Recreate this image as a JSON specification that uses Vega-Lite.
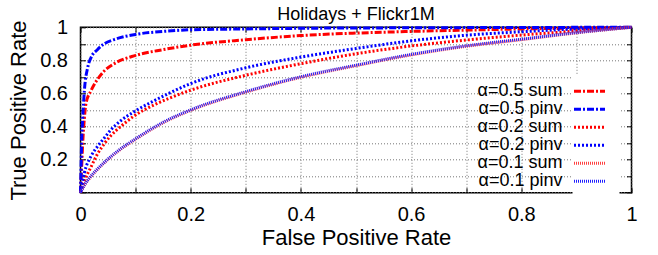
{
  "$schema": "https://vega.github.io/schema/vega-lite/v6.json",
  "width": 551,
  "height": 165.4,
  "autosize": {"type": "none"},
  "padding": {"left": 80.5, "top": 27.3, "right": 26.5, "bottom": 62.3},
  "title": {"text": "Holidays + Flickr1M", "fontSize": 18, "font": "Liberation Sans", "fontWeight": "normal", "baseline": "alphabetic", "offset": 7, "dy": 28, "anchor": "middle", "color": "black"},
  "config": {
    "view": {"stroke": "black", "strokeWidth": 1.5},
    "font": "Liberation Sans",
    "axis": {
      "domain": false,
      "grid": true,
      "gridColor": "#777",
      "gridDash": [1, 2],
      "gridWidth": 1,
      "tickSize": -5,
      "tickColor": "black",
      "tickWidth": 1,
      "labelFontSize": 20,
      "labelColor": "black",
      "labelFont": "Liberation Sans",
      "titleFont": "Liberation Sans",
      "titleFontSize": 22,
      "titleFontWeight": "normal",
      "titleColor": "black",
      "labelFlush": false,
      "labelOverlap": false
    },
    "legend": {
      "orient": "none",
      "legendX": 492,
      "legendY": 47,
      "fillColor": "white",
      "padding": 8,
      "labelFontSize": 18,
      "labelFont": "Liberation Sans",
      "labelColor": "black",
      "labelAlign": "right",
      "labelOffset": -36,
      "symbolType": "M-3.1,0H3.1",
      "symbolSize": 100,
      "symbolStrokeWidth": 3,
      "rowPadding": -1.2
    }
  },
  "data": {"values": [
    {"series": "α=0.5 sum", "fpr": 0, "tpr": 0},
    {"series": "α=0.5 sum", "fpr": 0.002, "tpr": 0.15},
    {"series": "α=0.5 sum", "fpr": 0.004, "tpr": 0.3},
    {"series": "α=0.5 sum", "fpr": 0.007, "tpr": 0.45},
    {"series": "α=0.5 sum", "fpr": 0.01, "tpr": 0.54},
    {"series": "α=0.5 sum", "fpr": 0.019, "tpr": 0.616},
    {"series": "α=0.5 sum", "fpr": 0.031, "tpr": 0.686},
    {"series": "α=0.5 sum", "fpr": 0.043, "tpr": 0.736},
    {"series": "α=0.5 sum", "fpr": 0.061, "tpr": 0.78},
    {"series": "α=0.5 sum", "fpr": 0.1, "tpr": 0.83},
    {"series": "α=0.5 sum", "fpr": 0.15, "tpr": 0.865},
    {"series": "α=0.5 sum", "fpr": 0.2, "tpr": 0.892},
    {"series": "α=0.5 sum", "fpr": 0.3, "tpr": 0.925},
    {"series": "α=0.5 sum", "fpr": 0.4, "tpr": 0.95},
    {"series": "α=0.5 sum", "fpr": 0.5, "tpr": 0.965},
    {"series": "α=0.5 sum", "fpr": 0.6, "tpr": 0.975},
    {"series": "α=0.5 sum", "fpr": 0.7, "tpr": 0.983},
    {"series": "α=0.5 sum", "fpr": 0.8, "tpr": 0.99},
    {"series": "α=0.5 sum", "fpr": 0.9, "tpr": 0.995},
    {"series": "α=0.5 sum", "fpr": 1, "tpr": 1},
    {"series": "α=0.5 pinv", "fpr": 0, "tpr": 0},
    {"series": "α=0.5 pinv", "fpr": 0.001, "tpr": 0.15},
    {"series": "α=0.5 pinv", "fpr": 0.002, "tpr": 0.3},
    {"series": "α=0.5 pinv", "fpr": 0.004, "tpr": 0.45},
    {"series": "α=0.5 pinv", "fpr": 0.007, "tpr": 0.616},
    {"series": "α=0.5 pinv", "fpr": 0.013, "tpr": 0.756},
    {"series": "α=0.5 pinv", "fpr": 0.019, "tpr": 0.816},
    {"series": "α=0.5 pinv", "fpr": 0.031, "tpr": 0.866},
    {"series": "α=0.5 pinv", "fpr": 0.043, "tpr": 0.9},
    {"series": "α=0.5 pinv", "fpr": 0.061, "tpr": 0.926},
    {"series": "α=0.5 pinv", "fpr": 0.1, "tpr": 0.957},
    {"series": "α=0.5 pinv", "fpr": 0.15, "tpr": 0.975},
    {"series": "α=0.5 pinv", "fpr": 0.2, "tpr": 0.985},
    {"series": "α=0.5 pinv", "fpr": 0.3, "tpr": 0.99},
    {"series": "α=0.5 pinv", "fpr": 0.4, "tpr": 0.994},
    {"series": "α=0.5 pinv", "fpr": 0.6, "tpr": 0.997},
    {"series": "α=0.5 pinv", "fpr": 0.8, "tpr": 0.999},
    {"series": "α=0.5 pinv", "fpr": 1, "tpr": 1},
    {"series": "α=0.2 sum", "fpr": 0, "tpr": 0},
    {"series": "α=0.2 sum", "fpr": 0.007, "tpr": 0.07},
    {"series": "α=0.2 sum", "fpr": 0.019, "tpr": 0.155},
    {"series": "α=0.2 sum", "fpr": 0.031, "tpr": 0.235},
    {"series": "α=0.2 sum", "fpr": 0.043, "tpr": 0.295},
    {"series": "α=0.2 sum", "fpr": 0.055, "tpr": 0.345},
    {"series": "α=0.2 sum", "fpr": 0.073, "tpr": 0.40},
    {"series": "α=0.2 sum", "fpr": 0.1, "tpr": 0.47},
    {"series": "α=0.2 sum", "fpr": 0.133, "tpr": 0.53},
    {"series": "α=0.2 sum", "fpr": 0.16, "tpr": 0.57},
    {"series": "α=0.2 sum", "fpr": 0.2, "tpr": 0.62},
    {"series": "α=0.2 sum", "fpr": 0.3, "tpr": 0.71},
    {"series": "α=0.2 sum", "fpr": 0.4, "tpr": 0.78},
    {"series": "α=0.2 sum", "fpr": 0.5, "tpr": 0.84},
    {"series": "α=0.2 sum", "fpr": 0.6, "tpr": 0.887},
    {"series": "α=0.2 sum", "fpr": 0.7, "tpr": 0.923},
    {"series": "α=0.2 sum", "fpr": 0.8, "tpr": 0.953},
    {"series": "α=0.2 sum", "fpr": 0.9, "tpr": 0.977},
    {"series": "α=0.2 sum", "fpr": 1, "tpr": 1},
    {"series": "α=0.2 pinv", "fpr": 0, "tpr": 0},
    {"series": "α=0.2 pinv", "fpr": 0.007, "tpr": 0.12},
    {"series": "α=0.2 pinv", "fpr": 0.019, "tpr": 0.22},
    {"series": "α=0.2 pinv", "fpr": 0.031, "tpr": 0.28},
    {"series": "α=0.2 pinv", "fpr": 0.043, "tpr": 0.33},
    {"series": "α=0.2 pinv", "fpr": 0.055, "tpr": 0.38},
    {"series": "α=0.2 pinv", "fpr": 0.073, "tpr": 0.435},
    {"series": "α=0.2 pinv", "fpr": 0.1, "tpr": 0.495},
    {"series": "α=0.2 pinv", "fpr": 0.133, "tpr": 0.555},
    {"series": "α=0.2 pinv", "fpr": 0.16, "tpr": 0.6},
    {"series": "α=0.2 pinv", "fpr": 0.2, "tpr": 0.66},
    {"series": "α=0.2 pinv", "fpr": 0.3, "tpr": 0.755},
    {"series": "α=0.2 pinv", "fpr": 0.4, "tpr": 0.82},
    {"series": "α=0.2 pinv", "fpr": 0.5, "tpr": 0.872},
    {"series": "α=0.2 pinv", "fpr": 0.6, "tpr": 0.918},
    {"series": "α=0.2 pinv", "fpr": 0.7, "tpr": 0.952},
    {"series": "α=0.2 pinv", "fpr": 0.8, "tpr": 0.973},
    {"series": "α=0.2 pinv", "fpr": 0.9, "tpr": 0.99},
    {"series": "α=0.2 pinv", "fpr": 1, "tpr": 1},
    {"series": "α=0.1 sum", "fpr": 0, "tpr": 0},
    {"series": "α=0.1 sum", "fpr": 0.007, "tpr": 0.043},
    {"series": "α=0.1 sum", "fpr": 0.019, "tpr": 0.098},
    {"series": "α=0.1 sum", "fpr": 0.03, "tpr": 0.138},
    {"series": "α=0.1 sum", "fpr": 0.049, "tpr": 0.198},
    {"series": "α=0.1 sum", "fpr": 0.067, "tpr": 0.248},
    {"series": "α=0.1 sum", "fpr": 0.1, "tpr": 0.323},
    {"series": "α=0.1 sum", "fpr": 0.15, "tpr": 0.423},
    {"series": "α=0.1 sum", "fpr": 0.2, "tpr": 0.498},
    {"series": "α=0.1 sum", "fpr": 0.3, "tpr": 0.608},
    {"series": "α=0.1 sum", "fpr": 0.4, "tpr": 0.698},
    {"series": "α=0.1 sum", "fpr": 0.5, "tpr": 0.768},
    {"series": "α=0.1 sum", "fpr": 0.6, "tpr": 0.833},
    {"series": "α=0.1 sum", "fpr": 0.7, "tpr": 0.885},
    {"series": "α=0.1 sum", "fpr": 0.8, "tpr": 0.925},
    {"series": "α=0.1 sum", "fpr": 0.9, "tpr": 0.966},
    {"series": "α=0.1 sum", "fpr": 1, "tpr": 1},
    {"series": "α=0.1 pinv", "fpr": 0, "tpr": 0},
    {"series": "α=0.1 pinv", "fpr": 0.007, "tpr": 0.046},
    {"series": "α=0.1 pinv", "fpr": 0.019, "tpr": 0.101},
    {"series": "α=0.1 pinv", "fpr": 0.03, "tpr": 0.141},
    {"series": "α=0.1 pinv", "fpr": 0.049, "tpr": 0.201},
    {"series": "α=0.1 pinv", "fpr": 0.067, "tpr": 0.251},
    {"series": "α=0.1 pinv", "fpr": 0.1, "tpr": 0.326},
    {"series": "α=0.1 pinv", "fpr": 0.15, "tpr": 0.426},
    {"series": "α=0.1 pinv", "fpr": 0.2, "tpr": 0.501},
    {"series": "α=0.1 pinv", "fpr": 0.3, "tpr": 0.611},
    {"series": "α=0.1 pinv", "fpr": 0.4, "tpr": 0.701},
    {"series": "α=0.1 pinv", "fpr": 0.5, "tpr": 0.771},
    {"series": "α=0.1 pinv", "fpr": 0.6, "tpr": 0.836},
    {"series": "α=0.1 pinv", "fpr": 0.7, "tpr": 0.888},
    {"series": "α=0.1 pinv", "fpr": 0.8, "tpr": 0.928},
    {"series": "α=0.1 pinv", "fpr": 0.9, "tpr": 0.968},
    {"series": "α=0.1 pinv", "fpr": 1, "tpr": 1}
  ]},
  "layer": [
    {
      "mark": {"type": "line", "interpolate": "monotone", "strokeWidth": 3},
      "encoding": {
        "x": {"field": "fpr", "type": "quantitative", "scale": {"domain": [0, 1], "nice": false},
              "axis": {"title": "False Positive Rate", "values": [0, 0.1, 0.2, 0.3, 0.4, 0.5, 0.6, 0.7, 0.8, 0.9, 1], "format": "~g",
                       "labelExpr": "round(datum.value*10) % 2 == 0 ? datum.label : ''", "labelPadding": 17, "titleX": 275.5, "titleY": 45, "titleBaseline": "middle"}},
        "y": {"field": "tpr", "type": "quantitative", "scale": {"domain": [0, 1], "nice": false},
              "axis": {"title": "True Positive Rate", "values": [0, 0.1, 0.2, 0.3, 0.4, 0.5, 0.6, 0.7, 0.8, 0.9, 1], "format": "~g",
                       "labelExpr": "datum.value > 0.01 && round(datum.value*10) % 2 == 0 ? datum.label : ''", "labelPadding": 18, "titleX": -62, "titleY": 82.7, "titleBaseline": "middle"}},
        "color": {"field": "series", "type": "nominal",
                  "scale": {"domain": ["α=0.5 sum", "α=0.5 pinv", "α=0.2 sum", "α=0.2 pinv", "α=0.1 sum", "α=0.1 pinv"],
                            "range": ["#ff0000", "#0000ff", "#ff0000", "#0000ff", "#ff4040", "#2020ff"]},
                  "legend": {"title": null}},
        "strokeDash": {"field": "series", "type": "nominal",
                  "scale": {"domain": ["α=0.5 sum", "α=0.5 pinv", "α=0.2 sum", "α=0.2 pinv", "α=0.1 sum", "α=0.1 pinv"],
                            "range": [[7, 2, 2, 2], [7, 2, 2, 2], [2, 2], [2, 2], [1, 1], [1, 1]]},
                  "legend": {"title": null}}
      }
    },
    {
      "mark": {"type": "point", "opacity": 0},
      "encoding": {
        "x": {"field": "fpr", "type": "quantitative", "axis": {"orient": "top", "values": [0, 0.1, 0.2, 0.3, 0.4, 0.5, 0.6, 0.7, 0.8, 0.9, 1], "labels": false, "grid": false, "title": null, "minExtent": 0, "maxExtent": 0}},
        "y": {"field": "tpr", "type": "quantitative", "axis": {"orient": "right", "values": [0, 0.1, 0.2, 0.3, 0.4, 0.5, 0.6, 0.7, 0.8, 0.9, 1], "labels": false, "grid": false, "title": null, "minExtent": 0, "maxExtent": 0}}
      }
    }
  ],
  "resolve": {"axis": {"x": "independent", "y": "independent"}}
}
